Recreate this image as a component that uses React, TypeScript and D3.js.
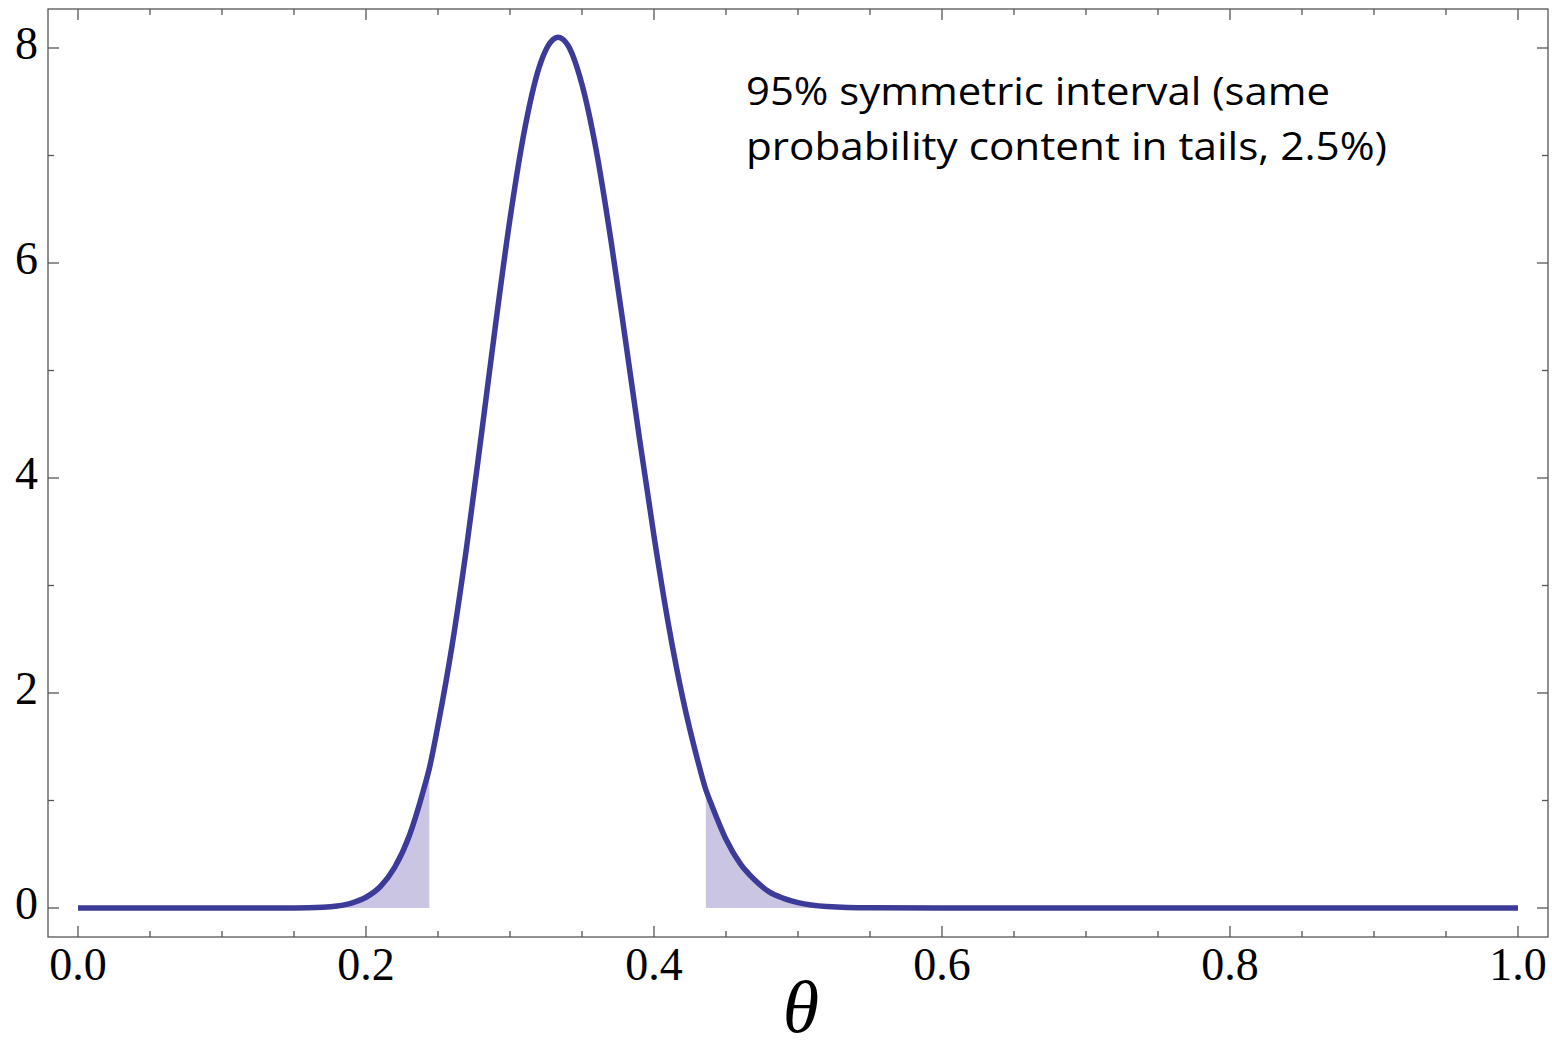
import React, { useEffect, useRef } from 'react';
import * as d3 from 'd3';

// posterior density
const theta = [
  0, 0.05, 0.1, 0.15, 0.17, 0.18, 0.19, 0.2, 0.21, 0.22, 0.23, 0.24, 0.244, 0.25,
  0.26, 0.27, 0.28, 0.29, 0.3, 0.31, 0.32, 0.33, 0.3333, 0.34, 0.35, 0.36, 0.37,
  0.38, 0.39, 0.4, 0.41, 0.42, 0.43, 0.436, 0.44, 0.45, 0.46, 0.47, 0.48, 0.49,
  0.5, 0.52, 0.55, 0.6, 0.7, 0.8, 0.9, 1.0,
];
const density = [
  0, 0, 0, 0.001, 0.007, 0.019, 0.046, 0.1, 0.2, 0.38, 0.67, 1.1, 1.3, 1.7,
  2.46, 3.37, 4.39, 5.43, 6.41, 7.23, 7.81, 8.08, 8.1, 8.03, 7.66, 7.04, 6.22,
  5.3, 4.36, 3.46, 2.64, 1.95, 1.39, 1.1, 0.96, 0.64, 0.41, 0.26, 0.15, 0.09,
  0.05, 0.014, 0.002, 0, 0, 0, 0, 0,
];

const lowerTail = 0.244;
const upperTail = 0.436;

const xMajor = [0, 0.2, 0.4, 0.6, 0.8, 1.0];
const xMinor = [0.05, 0.1, 0.15, 0.25, 0.3, 0.35, 0.45, 0.5, 0.55, 0.65, 0.7, 0.75, 0.85, 0.9, 0.95];
const yMajor = [0, 2, 4, 6, 8];
const yMinor = [1, 3, 5, 7];

const noteLines = ['95% symmetric interval (same', 'probability content in tails, 2.5%)'];

const W = 1552;
const H = 1046;
const frame = { left: 48, top: 9, right: 1548, bottom: 937 };

const drawChart = (node: SVGSVGElement) => {
  const svg = d3.select(node);
  svg.selectAll('*').remove();

  const x = d3.scaleLinear().domain([0, 1]).range([78, 1518]);
  const y = d3.scaleLinear().domain([0, 8]).range([908, 48]);

  const pts = theta.map((t, i) => ({ t, v: density[i] }));

  const area = d3.area<{ t: number; v: number }>()
    .x(d => x(d.t))
    .y0(y(0))
    .y1(d => y(d.v))
    .curve(d3.curveMonotoneX);

  const line = d3.line<{ t: number; v: number }>()
    .x(d => x(d.t))
    .y(d => y(d.v))
    .curve(d3.curveMonotoneX);

  // shaded tails
  svg.append('path')
    .attr('d', area(pts.filter(d => d.t <= lowerTail)))
    .attr('fill', '#c9c5e3');
  svg.append('path')
    .attr('d', area(pts.filter(d => d.t >= upperTail)))
    .attr('fill', '#c9c5e3');

  svg.append('path')
    .attr('d', line(pts))
    .attr('fill', 'none')
    .attr('stroke', '#3d3b99')
    .attr('stroke-width', 5.5);

  // frame
  const g = svg.append('g').attr('stroke', '#555').attr('stroke-width', 1.3);
  g.append('rect')
    .attr('x', frame.left)
    .attr('y', frame.top)
    .attr('width', frame.right - frame.left)
    .attr('height', frame.bottom - frame.top)
    .attr('fill', 'none');

  const tickX = (vals: number[], len: number) => {
    vals.forEach(v => {
      g.append('line').attr('x1', x(v)).attr('x2', x(v))
        .attr('y1', frame.bottom).attr('y2', frame.bottom - len);
      g.append('line').attr('x1', x(v)).attr('x2', x(v))
        .attr('y1', frame.top).attr('y2', frame.top + len);
    });
  };
  const tickY = (vals: number[], len: number) => {
    vals.forEach(v => {
      g.append('line').attr('y1', y(v)).attr('y2', y(v))
        .attr('x1', frame.left).attr('x2', frame.left + len);
      g.append('line').attr('y1', y(v)).attr('y2', y(v))
        .attr('x1', frame.right).attr('x2', frame.right - len);
    });
  };
  tickX(xMajor, 11);
  tickX(xMinor, 6);
  tickY(yMajor, 11);
  tickY(yMinor, 6);

  const serif = '"Liberation Serif", "DejaVu Serif", serif';

  svg.selectAll('text.xl')
    .data(xMajor)
    .enter()
    .append('text')
    .attr('x', d => x(d))
    .attr('y', 980)
    .attr('text-anchor', 'middle')
    .attr('font-family', serif)
    .attr('font-size', 46)
    .text(d => d.toFixed(1));

  svg.selectAll('text.yl')
    .data(yMajor)
    .enter()
    .append('text')
    .attr('x', 38)
    .attr('y', d => y(d) + 11)
    .attr('text-anchor', 'end')
    .attr('font-family', serif)
    .attr('font-size', 46)
    .text(d => d);

  svg.append('text')
    .attr('x', 801)
    .attr('y', 1032)
    .attr('text-anchor', 'middle')
    .attr('font-family', serif)
    .attr('font-style', 'italic')
    .attr('font-size', 74)
    .text('θ');

  const widths = [584, 641];
  noteLines.forEach((s, i) => {
    svg.append('text')
      .attr('x', 746)
      .attr('y', 105 + i * 55)
      .attr('font-family', '"Open Sans", "Noto Sans", sans-serif')
      .attr('font-size', 38)
      .attr('textLength', widths[i])
      .attr('lengthAdjust', 'spacingAndGlyphs')
      .text(s);
  });
};

export default function App() {
  const ref = useRef<SVGSVGElement>(null);
  useEffect(() => {
    if (ref.current) drawChart(ref.current);
  }, []);
  return (
    <svg
      ref={ref}
      width={W}
      height={H}
      style={{ position: 'absolute', left: 0, top: 0, background: '#fff' }}
    />
  );
}
